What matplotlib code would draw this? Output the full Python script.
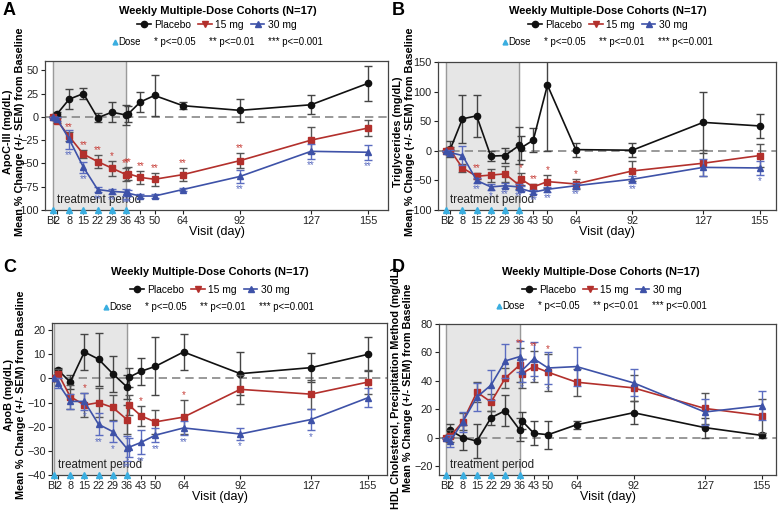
import matplotlib.pyplot as plt
from matplotlib.lines import Line2D

plt.rcParams['font.family'] = ['Liberation Sans Narrow', 'Liberation Sans', 'DejaVu Sans']

W, H = 779, 514

days = [0, 2, 8, 15, 22, 29, 36, 37, 43, 50, 64, 92, 127, 155]
tick_days = [0, 2, 8, 15, 22, 29, 36, 43, 50, 64, 92, 127, 155]
tick_labels = ['BL', '2', '8', '15', '22', '29', '36', '43', '50', '64', '92', '127', '155']
dose_days = [0, 8, 15, 22, 29, 36]

# A: ApoC-III
a_pbo = [0, 3, 19, 25, -1, 5, 2, 3, 16, 23, 12, 7, 13, 36]
a_pbo_err = [0, 2, 11, 6, 5, 11, 11, 9, 11, 22, 4, 12, 10, 19]
a_15 = [0, -4, -21, -40, -48, -55, -62, -61, -65, -67, -62, -47, -25, -12]
a_15_err = [0, 3, 5, 4, 7, 8, 7, 7, 7, 7, 7, 8, 14, 9]
a_30 = [0, -2, -24, -54, -78, -80, -81, -82, -85, -85, -78, -64, -37, -38]
a_30_err = [0, 2, 10, 6, 3, 3, 4, 3, 2, 2, 2, 7, 8, 8]
a_sig15 = ['', '', '**', '**', '**', '*', '**', '**', '**', '**', '**', '**', '', '']
a_sig30 = ['', '', '**', '**', '**', '**', '**', '**', '', '', '', '**', '**', '**']

# B: Triglycerides
b_pbo = [0, 3, 54, 59, -9, -8, 9, 5, 18, 111, 2, 1, 48, 42]
b_pbo_err = [0, 13, 40, 35, 9, 12, 32, 20, 20, 112, 12, 12, 52, 20]
b_15 = [0, 1, -29, -43, -41, -39, -58, -48, -61, -52, -56, -34, -21, -8]
b_15_err = [0, 6, 6, 5, 11, 13, 6, 10, 5, 11, 9, 17, 22, 20]
b_30 = [0, -3, -8, -50, -61, -59, -61, -64, -70, -65, -59, -48, -28, -29]
b_30_err = [0, 5, 16, 4, 5, 4, 5, 4, 3, 4, 4, 6, 14, 12]
b_sig15 = ['', '', '', '**', '', '', '', '*', '**', '*', '*', '', '', '']
b_sig30 = ['', '', '', '**', '*', '**', '**', '', '**', '**', '**', '**', '', '*']

# C: ApoB
c_pbo = [0, 3.5, -1.5, 11, 8, 2, -3.5, 0.5, 3, 5, 11, 2, 4.5, 10]
c_pbo_err = [0, 1, 3, 7.5, 11, 7.5, 5, 4, 5.5, 12, 7.5, 9, 6, 7]
c_15 = [0, 2, -7.5, -11, -10, -12, -17, -11, -15.5, -18, -16, -4.5, -6.5, -1.5]
c_15_err = [0, 2, 5, 5, 6, 5, 6, 4, 4, 5, 7, 6, 6, 5]
c_30 = [0, -2, -9.5, -9.5, -19, -22, -29, -28.5, -26.5, -23.5, -20.5, -23, -17, -8]
c_30_err = [0, 2, 3, 3.5, 4.5, 4.5, 5, 4, 5, 3, 3, 2.5, 4.5, 4]
c_sig15 = ['', '', '', '*', '', '', '', '', '*', '', '*', '', '', '']
c_sig30 = ['', '', '', '*', '**', '*', '**', '', '**', '**', '**', '*', '*', '']

# D: HDL cholesterol
d_pbo = [0, 5, 0, -2.5, 14, 19, 5.5, 12, 3, 2, 9, 17.5, 7, 1.5]
d_pbo_err = [0, 4.5, 8.5, 12, 5, 11, 8, 6, 8.5, 10, 3, 8, 7, 2]
d_15 = [0, 1, 11, 32, 25, 42, 51, 45, 50, 46, 39, 35, 20.5, 15.5]
d_15_err = [0, 4, 6, 7, 6, 7, 12, 10, 11, 13, 9.5, 9, 11, 12]
d_30 = [0, -2.5, 11, 28.5, 37, 54, 57, 47, 55.5, 49, 50, 38.5, 18, 22.5]
d_30_err = [0, 4, 7, 10, 10.5, 12, 11, 8, 12, 11, 13.5, 9.5, 9, 10]
d_sig15 = ['', '', '', '', '', '', '**', '', '**', '*', '', '', '', '']
d_sig30 = ['', '', '', '', '', '', '', '*', '*', '*', '', '', '', '']

BLACK = '#111111'
RED = '#b3302c'
BLUE = '#3e52a8'
DOSE = '#3aaee0'

panels = [
    dict(letter='A', box=(45, 61, 388, 210), xlim=(-3.9, 164.9), ylim=(-100, 60),
         yticks=range(-100, 51, 25),
         ylabel='ApoC-III (mg/dL)\nMean % Change (+/- SEM) from Baseline',
         ylab_xy=(14, 132), letter_xy=(3, 2), title_xy=(218, 11), leg1=(217, 25), leg2=(218, 42),
         data=(a_pbo, a_pbo_err, a_15, a_15_err, a_30, a_30_err, a_sig15, a_sig30)),
    dict(letter='B', box=(438, 62, 776, 210), xlim=(-4.1, 163), ylim=(-100, 150),
         yticks=range(-100, 151, 50),
         ylabel='Triglycerides (mg/dL)\nMean % Change (+/- SEM) from Baseline',
         ylab_xy=(404, 132), letter_xy=(392, 2), title_xy=(608, 11), leg1=(608, 25), leg2=(608, 42),
         data=(b_pbo, b_pbo_err, b_15, b_15_err, b_30, b_30_err, b_sig15, b_sig30)),
    dict(letter='C', box=(52, 323, 387, 475), xlim=(-1, 164.5), ylim=(-40, 23),
         yticks=range(-40, 21, 10),
         ylabel='ApoB (mg/dL)\nMean % Change (+/- SEM) from Baseline',
         ylab_xy=(15, 395), letter_xy=(3, 259), title_xy=(210, 272), leg1=(210, 290), leg2=(209, 307),
         data=(c_pbo, c_pbo_err, c_15, c_15_err, c_30, c_30_err, c_sig15, c_sig30)),
    dict(letter='D', box=(439, 324, 776, 475), xlim=(-3.6, 162), ylim=(-26.4, 80),
         yticks=range(-20, 81, 20),
         ylabel='HDL Cholesterol, Precipitation Method (mg/dL)\nMean % Change (+/- SEM) from Baseline',
         ylab_xy=(402, 388), letter_xy=(392, 259), title_xy=(601, 272), leg1=(602, 290), leg2=(602, 306),
         data=(d_pbo, d_pbo_err, d_15, d_15_err, d_30, d_30_err, d_sig15, d_sig30)),
]

fig = plt.figure(figsize=(W / 100, H / 100), dpi=100)


def fx(x):
    return x / W


def fy(y):
    return 1 - y / H


for p in panels:
    x0, y0, x1, y1 = p['box']
    ax = fig.add_axes([fx(x0), fy(y1), (x1 - x0) / W, (y1 - y0) / H])
    pbo, pbo_e, m15, m15_e, m30, m30_e, s15, s30 = p['data']

    # shaded dosing window and baseline reference line
    ax.axvspan(0, 36, color='#e6e6e6', zorder=0)
    ax.axvline(0, color='#9a9a9a', lw=1, zorder=0.5)
    ax.axvline(36, color='#9a9a9a', lw=1, zorder=0.5)
    ax.axhline(0, color='#888888', lw=1.2, ls=(0, (5, 3)), zorder=1)

    ax.errorbar(days, pbo, yerr=pbo_e, color=BLACK, marker='o', ms=4.5, lw=1.2,
                ecolor='#444444', elinewidth=1, capsize=3, zorder=3)
    ax.errorbar(days, m15, yerr=m15_e, color=RED, marker='s', ms=4, lw=1.2,
                ecolor='#555555', elinewidth=1, capsize=3, zorder=4)
    ax.errorbar(days, m30, yerr=m30_e, color=BLUE, marker='^', ms=4.5, lw=1.2,
                ecolor='#5b6cc0', elinewidth=1, capsize=3, zorder=5)

    # significance stars: 15 mg above the bar, 30 mg below
    for d, v, e, s in zip(days, m15, m15_e, s15):
        if s:
            ax.annotate(s, (d, v + e), xytext=(0, 0), textcoords='offset points',
                        ha='center', va='bottom', color='#c8403a', fontsize=7, zorder=6)
    for d, v, e, s in zip(days, m30, m30_e, s30):
        if s:
            ax.annotate(s, (d, v - e), xytext=(0, -1), textcoords='offset points',
                        ha='center', va='top', color='#5b6cc0', fontsize=7, zorder=6)

    ax.plot(dose_days, [p['ylim'][0]] * len(dose_days), ls='none', marker='^', ms=4.5,
            color=DOSE, clip_on=False, zorder=7)
    ax.text(2, p['ylim'][0] + (p['ylim'][1] - p['ylim'][0]) * 0.025, 'treatment period',
            fontsize=8.3, color='#222222', va='bottom', ha='left', zorder=2)

    ax.set_xlim(p['xlim'])
    ax.set_ylim(p['ylim'])
    ax.set_xticks(tick_days)
    ax.set_xticklabels(tick_labels)
    ax.set_yticks(list(p['yticks']))
    ax.tick_params(labelsize=7.8, length=3, width=0.8, pad=1.5, colors='#222222')
    for sp in ax.spines.values():
        sp.set_color('#444444')
        sp.set_linewidth(0.9)
    ax.set_xlabel('Visit (day)', fontsize=9, labelpad=0)

    fig.text(fx(p['ylab_xy'][0]), fy(p['ylab_xy'][1]), p['ylabel'], rotation=90,
             ha='center', va='center', fontsize=7.8, fontweight='bold', linespacing=1.2)
    fig.text(fx(p['letter_xy'][0]), fy(p['letter_xy'][1]), p['letter'], fontsize=13,
             fontweight='bold', ha='left', va='top')
    fig.text(fx(p['title_xy'][0]), fy(p['title_xy'][1]), 'Weekly Multiple-Dose Cohorts (N=17)',
             fontsize=8, fontweight='bold', ha='center', va='center')

    h1 = [Line2D([], [], color=BLACK, marker='o', ms=4.5, lw=1.2),
          Line2D([], [], color=RED, marker='v', ms=4.5, lw=1.2),
          Line2D([], [], color=BLUE, marker='^', ms=4.5, lw=1.2)]
    fig.legend(h1, ['Placebo', '15 mg', '30 mg'], loc='center',
               bbox_to_anchor=(fx(p['leg1'][0]), fy(p['leg1'][1])), ncol=3, frameon=False,
               fontsize=7.4, handlelength=1.3, handletextpad=0.35, columnspacing=0.7,
               borderpad=0, borderaxespad=0)
    h2 = [Line2D([], [], color=DOSE, marker='^', ms=3.5, ls='none')] + \
         [Line2D([], [], ls='none') for _ in range(3)]
    fig.legend(h2, ['Dose', '* p<=0.05', '** p<=0.01', '*** p<=0.001'], loc='center',
               bbox_to_anchor=(fx(p['leg2'][0]), fy(p['leg2'][1])), ncol=4, frameon=False,
               fontsize=6.9, handlelength=0.4, handletextpad=0.2, columnspacing=0.8,
               borderpad=0, borderaxespad=0)

fig.savefig('out.png', dpi=100)
